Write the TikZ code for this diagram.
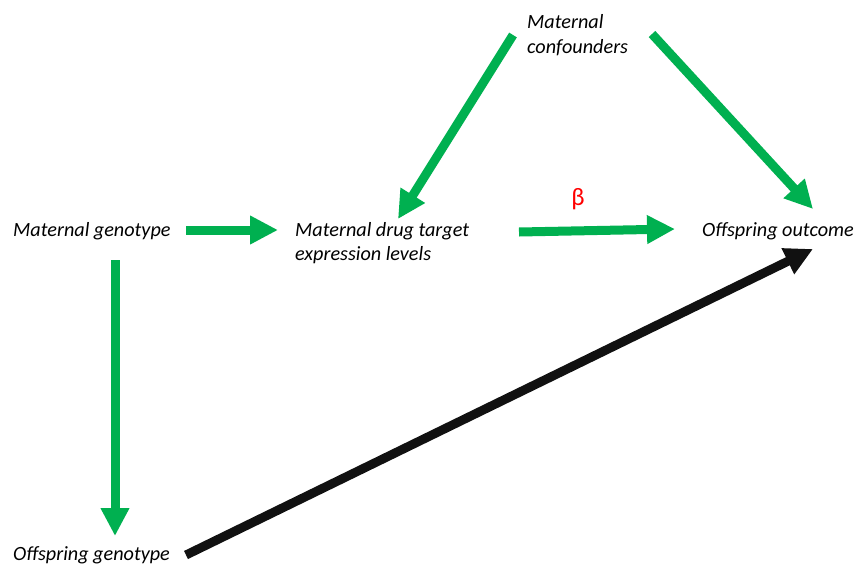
\documentclass[tikz,border=0pt]{standalone}
\usepackage{fontspec}
\setmainfont{Carlito}
\usetikzlibrary{arrows.meta}
\definecolor{ogreen}{HTML}{00B050}
\definecolor{oblack}{HTML}{111111}
\tikzset{
  lbl/.style={font=\fontsize{20.2}{24.5}\selectfont\itshape, inner sep=0pt, anchor=west, align=left},
  garrow/.style={draw=ogreen, line width=9pt, -{Triangle[length=28pt,width=27pt]}},
  barrow/.style={draw=oblack, line width=9pt, -{Triangle[length=28pt,width=27pt]}},
}
\begin{document}
\begin{tikzpicture}[x=1pt,y=-1pt]
\useasboundingbox (0,0) rectangle (856,565);
\node[lbl] (mg) at (13,231) {Maternal genotype};
\node[lbl] (og) at (13,555) {Offspring genotype};
\node[lbl] (mdt) at (295,243) {Maternal drug target\\expression levels};
\node[lbl] (mc) at (527,35) {Maternal\\confounders};
\node[lbl] (oo) at (702,231) {Offspring outcome};
\node[font=\fontsize{25}{28}\selectfont, text=red, inner sep=0pt] (beta) at (578,199) {β};
\coordinate (a1s) at (186,230); \coordinate (a1e) at (278,230);
\coordinate (a2s) at (115,260); \coordinate (a2e) at (115,536);
\coordinate (a3s) at (513,35);  \coordinate (a3e) at (398,219);
\coordinate (a4s) at (519,232); \coordinate (a4e) at (675,229);
\coordinate (a5s) at (652,34);  \coordinate (a5e) at (813,209);
\coordinate (a6s) at (186,555); \coordinate (a6e) at (813,249);
\draw[garrow] (a1s) -- (a1e);
\draw[garrow] (a2s) -- (a2e);
\draw[garrow] (a3s) -- (a3e);
\draw[garrow] (a4s) -- (a4e);
\draw[garrow] (a5s) -- (a5e);
\draw[barrow] (a6s) -- (a6e);
\end{tikzpicture}
\end{document}
